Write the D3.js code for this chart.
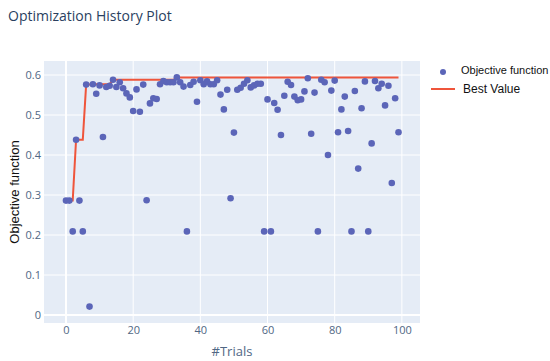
<!DOCTYPE html>
<html>
<head>
<meta charset="utf-8">
<script src="https://cdn.jsdelivr.net/npm/d3@7.9.0/dist/d3.min.js"></script>
<style>
  body { margin: 0; background: #fff; }
  svg { display: block; }
</style>
</head>
<body>
<svg id="chart" width="550" height="361"></svg>
<script>
// trial number and objective value
const trials = d3.range(0, 100);
const objectiveValues = [
  0.286, 0.286, 0.209, 0.438, 0.286, 0.209, 0.576, 0.021, 0.577, 0.553,
  0.574, 0.445, 0.570, 0.573, 0.588, 0.570, 0.582, 0.567, 0.554, 0.544,
  0.510, 0.564, 0.508, 0.576, 0.287, 0.529, 0.542, 0.540, 0.577, 0.585,
  0.582, 0.582, 0.582, 0.594, 0.582, 0.571, 0.209, 0.575, 0.583, 0.533,
  0.587, 0.577, 0.584, 0.577, 0.577, 0.587, 0.551, 0.514, 0.563, 0.292,
  0.456, 0.563, 0.568, 0.578, 0.587, 0.569, 0.574, 0.578, 0.578, 0.209,
  0.539, 0.209, 0.530, 0.513, 0.450, 0.548, 0.583, 0.575, 0.546, 0.537,
  0.539, 0.559, 0.592, 0.453, 0.556, 0.209, 0.588, 0.582, 0.400, 0.561,
  0.586, 0.457, 0.514, 0.546, 0.460, 0.209, 0.560, 0.366, 0.517, 0.584,
  0.209, 0.429, 0.585, 0.567, 0.578, 0.524, 0.573, 0.330, 0.542, 0.457
];
const xTicks = [0, 20, 40, 60, 80, 100];
const yTicks = [0, 0.1, 0.2, 0.3, 0.4, 0.5, 0.6];
const seriesNames = ["Objective function", "Best Value"];

// best value so far = running max of the objective
const bestValues = [];
let best = -Infinity;
objectiveValues.forEach(v => { best = Math.max(best, v); bestValues.push(best); });

const svg = d3.select("#chart");
const plot = { left: 44, right: 420, top: 61, bottom: 323 };

const x = d3.scaleLinear().domain([-6.55, 105.4]).range([plot.left, plot.right]);
const y = d3.scaleLinear().domain([-0.02, 0.635]).range([plot.bottom, plot.top]);

// background
svg.append("rect")
  .attr("x", plot.left).attr("y", plot.top)
  .attr("width", plot.right - plot.left).attr("height", plot.bottom - plot.top)
  .attr("fill", "#e5ecf6");

// grid
svg.append("g").selectAll("line").data(xTicks).join("line")
  .attr("x1", d => x(d)).attr("x2", d => x(d))
  .attr("y1", plot.top).attr("y2", plot.bottom)
  .attr("stroke", "#fff").attr("stroke-width", d => d === 0 ? 2 : 1);
svg.append("g").selectAll("line").data(yTicks).join("line")
  .attr("x1", plot.left).attr("x2", plot.right)
  .attr("y1", d => y(d)).attr("y2", d => y(d))
  .attr("stroke", "#fff").attr("stroke-width", d => d === 0 ? 2 : 1);

// axes (labels only)
const xAxis = svg.append("g")
  .attr("transform", `translate(0,${plot.bottom})`)
  .call(d3.axisBottom(x).tickValues(xTicks).tickSize(0).tickPadding(3));
const yAxis = svg.append("g")
  .attr("transform", `translate(${plot.left},0)`)
  .call(d3.axisLeft(y).tickValues(yTicks).tickSize(0).tickPadding(3).tickFormat(d => d === 0 ? "0" : d3.format(".1f")(d)));
[xAxis, yAxis].forEach(a => {
  a.select(".domain").remove();
  a.selectAll("text")
    .attr("fill", "#506784")
    .style("font-family", "'Open Sans', sans-serif")
    .style("font-size", "11px");
});

// best value line
const line = d3.line().x((d, i) => x(trials[i])).y(d => y(d));
svg.append("path")
  .datum(bestValues)
  .attr("d", line)
  .attr("fill", "none")
  .attr("stroke", "#ef553b")
  .attr("stroke-width", 2);

// objective points
svg.append("g").selectAll("circle").data(objectiveValues).join("circle")
  .attr("cx", (d, i) => x(trials[i]))
  .attr("cy", d => y(d))
  .attr("r", 3.3)
  .attr("fill", "#5b65b8");

// title
svg.append("text")
  .attr("x", 8).attr("y", 21)
  .attr("fill", "#2a3f5f")
  .style("font-family", "'Open Sans', sans-serif")
  .style("font-size", "14px")
  .text("Optimization History Plot");

// axis titles
svg.append("text")
  .attr("x", (plot.left + plot.right) / 2).attr("y", 356)
  .attr("text-anchor", "middle")
  .attr("fill", "#506784")
  .style("font-family", "'Open Sans', sans-serif")
  .style("font-size", "13px")
  .text("#Trials");
svg.append("text")
  .attr("transform", `translate(19,${(plot.top + plot.bottom) / 2}) rotate(-90)`)
  .attr("text-anchor", "middle")
  .attr("fill", "#111")
  .style("font-family", "'Liberation Sans', Arial, sans-serif")
  .style("font-size", "13px")
  .text("Objective function");

// legend
const legend = svg.append("g").attr("transform", "translate(430,0)");
legend.append("circle").attr("cx", 13).attr("cy", 72).attr("r", 3).attr("fill", "#5b65b8");
legend.append("line").attr("x1", 1).attr("x2", 25).attr("y1", 89).attr("y2", 89)
  .attr("stroke", "#ef553b").attr("stroke-width", 2);
legend.selectAll("text.lab").data(seriesNames).join("text")
  .attr("class", "lab")
  .attr("x", (d, i) => i === 0 ? 31 : 33)
  .attr("y", (d, i) => i === 0 ? 74 : 93)
  .attr("fill", "#111")
  .style("font-family", "'Liberation Sans', Arial, sans-serif")
  .style("font-size", (d, i) => i === 0 ? "11px" : "12px")
  .text(d => d);
</script>
</body>
</html>
